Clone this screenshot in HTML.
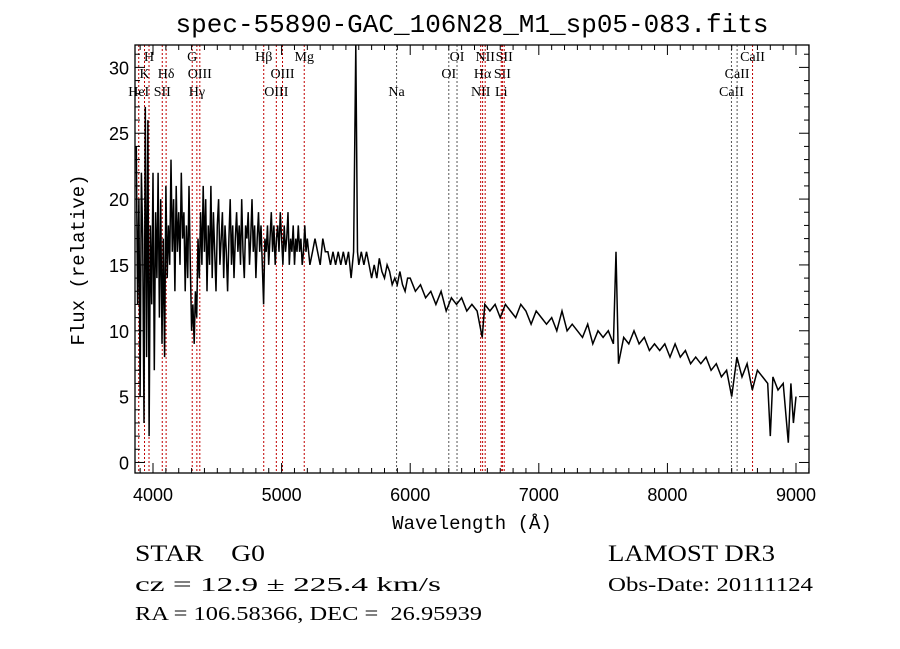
<!DOCTYPE html>
<html><head><meta charset="utf-8"><style>
body{margin:0;background:#fff;width:900px;height:649px;overflow:hidden}
svg{display:block}
.mono{font-family:"Liberation Mono",monospace}
.serif{font-family:"Liberation Serif",serif}
</style></head><body>
<svg id="chart" width="900" height="649" viewBox="0 0 900 649" xmlns="http://www.w3.org/2000/svg">
<text class="mono" x="472" y="32" font-size="26" text-anchor="middle">spec-55890-GAC_106N28_M1_sp05-083.fits</text>
<g id="lines"></g>
<g id="series"></g>
<g id="axes"></g>
<text class="mono" x="472" y="529" font-size="19" text-anchor="middle">Wavelength (Å)</text>
<text class="mono" x="0" y="0" font-size="19" text-anchor="middle" transform="translate(84,260) rotate(-90)">Flux (relative)</text>
<text class="serif" x="135" y="561" font-size="23" textLength="130" lengthAdjust="spacingAndGlyphs" xml:space="preserve">STAR    G0</text>
<text class="serif" x="135" y="591" font-size="20" textLength="306" lengthAdjust="spacingAndGlyphs">cz = 12.9 ± 225.4 km/s</text>
<text class="serif" x="135" y="620" font-size="20" textLength="347" lengthAdjust="spacingAndGlyphs" xml:space="preserve">RA = 106.58366, DEC =  26.95939</text>
<text class="serif" x="608" y="561" font-size="23" textLength="167" lengthAdjust="spacingAndGlyphs">LAMOST DR3</text>
<text class="serif" x="608" y="591" font-size="20" textLength="205" lengthAdjust="spacingAndGlyphs">Obs-Date: 20111124</text>
</svg>
<script>
const waves=[
3870,3880,3890,3900,3910,3920,3930,3940,3950,3960,
3970,3980,3990,4000,4010,4020,4030,4040,4050,4060,
4070,4080,4090,4100,4110,4120,4130,4140,4150,4160,
4170,4180,4190,4200,4210,4220,4230,4240,4250,4260,
4270,4280,4290,4300,4310,4320,4330,4340,4350,4360,
4370,4380,4390,4400,
4410,4420,4430,4440,4450,4460,4470,4480,4490,4500,
4510,4520,4530,4540,4550,4560,4570,4580,4590,4600,
4610,4620,4630,4640,4650,4660,4670,4680,4690,4700,
4710,4720,4730,4740,4750,4760,4770,4780,4790,4800,
4810,4820,4830,4840,4850,4860,4870,4880,4890,4900,
4910,4920,4930,4940,4950,4960,4970,4980,4990,5000,
5010,5020,5030,5040,5050,5060,5070,5080,5090,5100,
5110,5120,5130,5140,5150,5160,5170,5180,5190,
5200,5220,5240,5260,5280,5300,5320,5340,5360,5380,
5400,5420,5440,5460,5480,5500,5520,5540,5560,
5577,5590,5600,
5620,5640,5660,5680,5700,5720,5740,5760,5780,5800,
5820,5840,5860,5880,5900,5920,5940,5960,5980,6000,
6040,6080,6120,6160,6200,6240,6280,6320,6360,6400,
6440,6480,6520,6560,6580,6620,6660,6700,6740,6780,
6820,6860,6900,6940,6980,7020,7060,7100,7140,7180,
7220,7260,7300,7340,7380,7420,7460,7500,7540,7580,
7600,7620,7660,7700,7740,7780,7820,7860,7900,7940,
7980,8020,8060,8100,8140,8180,8220,8260,8300,8340,
8380,8420,8460,8500,8540,8580,8620,8660,8700,8740,
8780,8800,8820,8860,8900,8940,8960,8980,9000];
const flux=[
24,12,20,5,22,17,3,27,8,26,
2,18,12,22,7,19,14,22,11,20,
9,17,8,21,14,18,15,23,16,20,
13,21,16,19,15,22,17,19,13,18,
14,21,15,10,12,9,13,11,17,14,
19,15,21,16,
20,13,18,15,21,14,19,16,13,18,
20,15,17,19,14,18,16,13,17,20,
15,18,14,17,19,16,18,15,20,16,
14,18,17,19,15,17,20,16,18,14,
17,19,16,18,15,12,17,16,18,15,
17,19,16,18,15,17,18,16,19,17,
15,18,16,17,19,15,17,16,18,15,
17,16,18,16,17,15,16,18,16,
17,15,16,17,16,15,17,16,16,15,
16,15,16,15,16,15,16,14,16,
33,16,15,
16,15,16,15,14,15,14,15.5,14.5,14,
15,14.5,13.5,14,13.5,14.5,13.5,13,14,14,
13,13.5,12.5,13,12,13,11.5,12.5,12,12.5,
11.5,12,11.5,9.5,12,11.5,12,11,12,11.5,
11,12,11.5,10.5,11.5,11,10.5,11,10,11.5,
10,10.5,10,9.5,10.5,9,10,9.5,10,9,
16,7.5,9.5,9,10,9,9.5,8.5,9,8.5,
9,8,9,8,8.5,7.5,8,7.5,8,7,
7.5,6.5,7,5,8,6.5,7.5,5.5,7,6.5,
6,2,6.5,5.5,6,1.5,6,3,5];
const lineWaves=[3889,3934,3969,4072,4102,4305,4341,4364,4861,4959,5007,5176,5894,6300,6364,6548,6563,6583,6708,6717,6731,8498,8542,8662];
const lineNames=["HeI","K","H","SII","Hδ","G","Hγ","OIII","Hβ","OIII","OIII","Mg","Na","OI","OI","NII","Hα","NII","Li","SII","SII","CaII","CaII","CaII"];
const lineRows=[3,2,1,3,2,1,3,2,1,3,2,1,3,2,1,3,2,1,3,2,1,3,2,1];
const lineAbs=[0,0,0,0,0,0,0,0,0,0,0,0,1,1,1,0,0,0,0,0,0,1,1,0];
const xTicks=[4000,5000,6000,7000,8000,9000];
const yTicks=[0,5,10,15,20,25,30];
const X0=3860,X1=9101,Y0=-0.8,Y1=31.7;
const L=135,R=809,T=45,B=473;
const xs=w=>L+(w-X0)/(X1-X0)*(R-L);
const ys=v=>B-(v-Y0)/(Y1-Y0)*(B-T);
const NS="http://www.w3.org/2000/svg";
function mk(tag,parent,attrs){const e=document.createElementNS(NS,tag);for(const k in attrs)e.setAttribute(k,attrs[k]);parent.appendChild(e);return e;}
const gL=document.getElementById('lines'),gS=document.getElementById('series'),gA=document.getElementById('axes');
const rowY=[0,61,78,96];
lineWaves.forEach((w,i)=>{
  const x=xs(w);
  const ln=mk('line',gL,{x1:x,x2:x,y1:T,y2:B,stroke:lineAbs[i]?'#555':'#c00000','stroke-width':1,'stroke-dasharray':'2,2'});
  
  
  const t=mk('text',gL,{x:x,y:rowY[lineRows[i]],'font-size':14,'text-anchor':'middle','font-family':'"Liberation Serif",serif'});
  t.textContent=lineNames[i];
  
  
});
let d='';
const n=Math.min(waves.length,flux.length);
for(let i=0;i<n;i++){const y=Math.max(T,Math.min(B,ys(flux[i])));d+=(i?'L':'M')+xs(waves[i]).toFixed(1)+','+y.toFixed(1);}
const p=mk('path',gS,{d:d,fill:'none',stroke:'#000','stroke-width':1.5});


const fr=mk('rect',gA,{x:L,y:T,width:R-L,height:B-T,fill:'none',stroke:'#000','stroke-width':1.3});


for(let w=3900;w<=9100;w+=100){const x=xs(w);const maj=w%1000===0;const len=maj?10:5;
  mk('line',gA,{x1:x,x2:x,y1:B,y2:B-len,stroke:'#000'});mk('line',gA,{x1:x,x2:x,y1:T,y2:T+len,stroke:'#000'});}
for(let v=0;v<=31;v++){const y=ys(v);const len=v%5===0?10:5;
  mk('line',gA,{x1:L,x2:L+len,y1:y,y2:y,stroke:'#000'});mk('line',gA,{x1:R,x2:R-len,y1:y,y2:y,stroke:'#000'});}
xTicks.forEach(w=>{const t=mk('text',gA,{x:xs(w),y:B+28,'font-size':18,'text-anchor':'middle','font-family':'"Liberation Sans",sans-serif'});t.textContent=w;
  
  });
yTicks.forEach(v=>{const t=mk('text',gA,{x:L-6,y:ys(v)+7,'font-size':18,'text-anchor':'end','font-family':'"Liberation Sans",sans-serif'});t.textContent=v;
  
  });
</script>
</body></html>
